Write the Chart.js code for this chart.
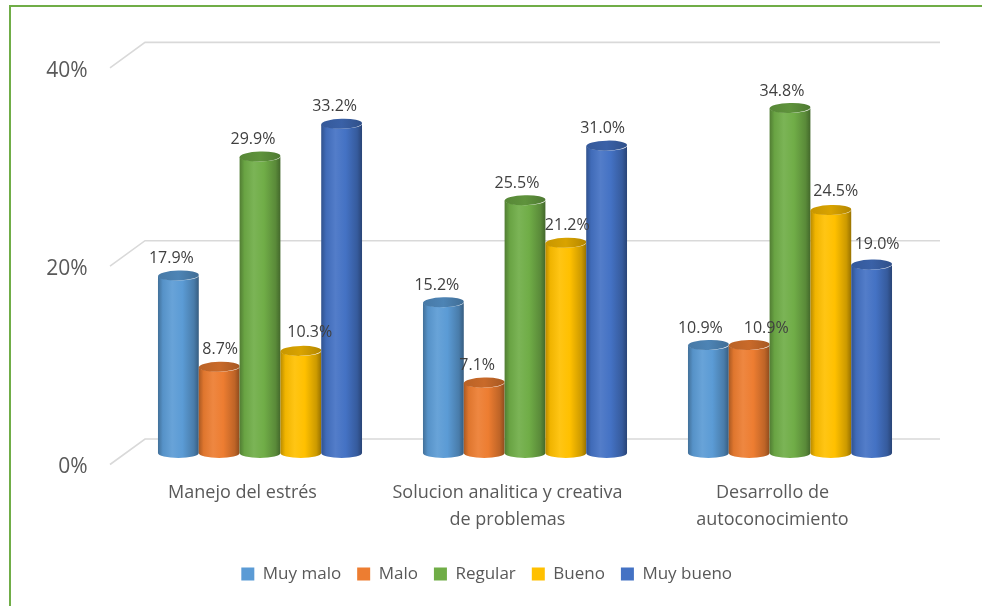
<!DOCTYPE html>
<html>
<head>
<meta charset="utf-8">
<script src="https://cdn.jsdelivr.net/npm/chart.js@4/dist/chart.umd.min.js"></script>
<style>
  html, body { margin: 0; padding: 0; background: #ffffff; }
  #wrap { position: relative; width: 982px; height: 606px; overflow: hidden; background: #ffffff; }
  #frame { position: absolute; left: 9px; top: 5px; width: 1100px; height: 700px;
           border-top: 2px solid #70AD47; border-left: 2px solid #70AD47; }
  #c { position: absolute; left: 0; top: 0; }
</style>
</head>
<body>
<div id="wrap">
  <div id="frame"></div>
  <canvas id="c" width="982" height="606"></canvas>
</div>
<script>
// Categories and series (percentages)
const categories = [
  ['Manejo del estrés'],
  ['Solucion analitica y creativa', 'de problemas'],
  ['Desarrollo de', 'autoconocimiento']
];
const seriesNames = ['Muy malo', 'Malo', 'Regular', 'Bueno', 'Muy bueno'];
const muyMalo  = [17.9, 15.2, 10.9];
const malo     = [8.7, 7.1, 10.9];
const regular  = [29.9, 25.5, 34.8];
const bueno    = [10.3, 21.2, 24.5];
const muyBueno = [33.2, 31.0, 19.0];
const seriesColors = ['#5B9BD5', '#ED7D31', '#70AD47', '#FFC000', '#4472C4'];
const yTicks = [0, 20, 40];

const seriesValues = [muyMalo, malo, regular, bueno, muyBueno];

// Hand-placed value label nudges (px from the top of each cylinder), per series
const labelDX = [[-7, -6.5, -8], [1, -7, 17], [-7, -8, -8], [9, 1.5, 5], [-7, -4, 5.5]];
const labelDY = [[-17, -17, -16], [-17.5, -17, -16], [-17, -17, -17], [-18, -17, -19], [-17, -17, -20]];

Chart.defaults.font.family = "'Open Sans', 'DejaVu Sans', sans-serif";

// Mix a hex colour with white (amt > 0) or black (amt < 0)
function shade(hex, amt) {
  const n = parseInt(hex.slice(1), 16);
  let r = (n >> 16) & 255, g = (n >> 8) & 255, b = n & 255;
  const t = amt < 0 ? 0 : 255, p = Math.abs(amt);
  r = Math.round(r + (t - r) * p);
  g = Math.round(g + (t - g) * p);
  b = Math.round(b + (t - b) * p);
  return `rgb(${r},${g},${b})`;
}

// Depth offsets of the pseudo-3D floor/back wall
const DEPTH_X = 17.5, BACK_DY = -14, FRONT_DY = 11.5;

const wallGrid = {
  id: 'wallGrid',
  beforeDatasetsDraw(chart) {
    const { ctx, chartArea } = chart;
    const ys = chart.scales.y;
    ctx.save();
    ctx.strokeStyle = '#D9D9D9';
    ctx.lineWidth = 1.6;
    yTicks.forEach(v => {
      const p = ys.getPixelForValue(v);
      ctx.beginPath();
      ctx.moveTo(chartArea.left - DEPTH_X, p + FRONT_DY);
      ctx.lineTo(chartArea.left + DEPTH_X, p + BACK_DY);
      ctx.lineTo(chartArea.right + DEPTH_X, p + BACK_DY);
      ctx.stroke();
    });
    ctx.restore();
  }
};

function drawCylinder(ctx, cx, top, base, w, color) {
  const rx = w / 2, ry = 5;
  const left = cx - rx, right = cx + rx;
  const body = ctx.createLinearGradient(left, 0, right, 0);
  body.addColorStop(0, shade(color, -0.28));
  body.addColorStop(0.12, shade(color, -0.06));
  body.addColorStop(0.35, shade(color, 0.08));
  body.addColorStop(0.6, color);
  body.addColorStop(0.88, shade(color, -0.2));
  body.addColorStop(1, shade(color, -0.4));
  ctx.beginPath();
  ctx.moveTo(left, top);
  ctx.lineTo(left, base);
  ctx.ellipse(cx, base, rx, ry, 0, Math.PI, 0, true);
  ctx.lineTo(right, top);
  ctx.ellipse(cx, top, rx, ry, 0, 0, Math.PI, false);
  ctx.closePath();
  ctx.fillStyle = body;
  ctx.fill();

  const cap = ctx.createLinearGradient(left, 0, right, 0);
  cap.addColorStop(0, shade(color, -0.22));
  cap.addColorStop(0.5, shade(color, -0.15));
  cap.addColorStop(1, shade(color, -0.3));
  ctx.beginPath();
  ctx.ellipse(cx, top, rx, ry, -0.03, 0, Math.PI * 2);
  ctx.fillStyle = cap;
  ctx.fill();
}

const cylinders = {
  id: 'cylinders',
  beforeDatasetDraw() { return false; },
  afterDatasetsDraw(chart) {
    const ctx = chart.ctx;
    ctx.save();
    chart.data.datasets.forEach((ds, di) => {
      chart.getDatasetMeta(di).data.forEach(el => {
        drawCylinder(ctx, el.x, el.y, el.base, el.width, seriesColors[di]);
      });
    });
    ctx.fillStyle = '#404040';
    ctx.font = "16px 'Open Sans', sans-serif";
    ctx.textAlign = 'center';
    ctx.textBaseline = 'middle';
    chart.data.datasets.forEach((ds, di) => {
      chart.getDatasetMeta(di).data.forEach((el, i) => {
        ctx.fillText(ds.data[i].toFixed(1) + '%', el.x + labelDX[di][i], el.y + labelDY[di][i]);
      });
    });
    ctx.restore();
  }
};

new Chart(document.getElementById('c'), {
  type: 'bar',
  data: {
    labels: categories,
    datasets: seriesNames.map((name, i) => ({
      label: name,
      data: seriesValues[i],
      backgroundColor: seriesColors[i],
      borderWidth: 0,
      categoryPercentage: 0.77,
      barPercentage: 1
    }))
  },
  options: {
    responsive: false,
    animation: false,
    devicePixelRatio: 1,
    layout: { padding: { left: 40, right: 48.6, top: 56.4, bottom: 13.5 } },
    scales: {
      x: {
        grid: { display: false, drawTicks: false },
        border: { display: false },
        ticks: {
          color: '#595959',
          font: { size: 18, lineHeight: 1.5 },
          padding: 26.5,
          labelOffset: -DEPTH_X,
          maxRotation: 0,
          autoSkip: false
        },
        afterFit(s) { s.height = 96.5; }
      },
      y: {
        min: 0,
        max: 40,
        afterBuildTicks(s) { s.ticks = yTicks.map(v => ({ value: v })); },
        grid: { display: false, drawTicks: false },
        border: { display: false },
        ticks: {
          color: '#595959',
          font: { size: 21 },
          padding: 40,
          labelOffset: 14.5,
          callback: v => v + '%'
        },
        afterFit(s) { s.width = 87.5; }
      },
      // thin spacer on the right so the floor depth fits inside the plot box
      depth: {
        position: 'right',
        min: 0,
        max: 40,
        grid: { display: false, drawTicks: false },
        border: { display: false },
        ticks: { display: false },
        afterFit(s) { s.width = 10.9; }
      }
    },
    plugins: {
      legend: {
        position: 'bottom',
        labels: {
          boxWidth: 13,
          boxHeight: 13,
          padding: 16,
          color: '#595959',
          font: { size: 17 }
        }
      },
      tooltip: { enabled: false }
    }
  },
  plugins: [wallGrid, cylinders]
});
</script>
</body>
</html>
